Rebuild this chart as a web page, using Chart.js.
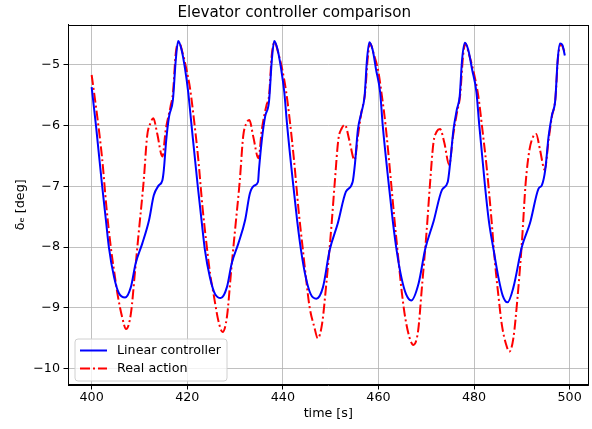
<!DOCTYPE html>
<html>
<head>
<meta charset="utf-8">
<script src="https://cdn.jsdelivr.net/npm/chart.js@4"></script>
<style>
  html, body { margin: 0; padding: 0; background: #fff; }
  canvas { display: block; }
</style>
</head>
<body>
<canvas id="elevatorChart" width="592" height="429"></canvas>
<script>
// elevator deflection from the linear controller: time [s] / delta_e [deg]
var linearTime = [
  400.0, 400.9, 402.2, 403.0, 403.6, 404.7, 405.7, 407.0, 408.2, 409.2, 410.6, 412.0, 413.0, 414.0, 414.8, 415.1, 415.6, 416.2, 417.0, 417.6, 418.1, 418.8, 419.5,
  420.2, 420.9, 422.2, 423.0, 423.7, 424.75, 425.8, 427.0, 428.3, 429.3, 430.7, 432.1, 433.1, 434.0, 434.8, 435.0, 435.6, 436.3, 437.1, 437.7, 438.2, 438.9, 439.6,
  440.3, 440.9, 442.2, 443.0, 443.8, 444.8, 445.8, 447.0, 448.4, 449.8, 451.5, 453.2, 454.6, 455.1, 455.7, 456.4, 457.1, 457.6, 458.1, 458.8, 459.5,
  460.35, 460.9, 462.2, 463.0, 463.8, 464.8, 465.8, 466.85, 468.4, 469.8, 471.5, 473.3, 474.5, 475.0, 475.7, 476.4, 477.0, 477.5, 478.1, 478.8, 479.6,
  480.5, 481.1, 482.3, 483.1, 484.1, 485.1, 486.0, 487.0, 488.25, 490.0, 491.7, 493.5, 494.2, 494.9, 495.6, 496.3, 497.0, 497.5, 498.0, 498.5, 499.0
];
var linearDeflection = [
  -5.37, -6.00, -7.00, -7.57, -8.00, -8.50, -8.76, -8.83, -8.66, -8.27, -7.94, -7.56, -7.15, -6.99, -6.90, -6.73, -6.24, -5.85, -5.58, -4.92, -4.61, -4.75, -5.05,
  -5.45, -6.00, -7.00, -7.57, -8.05, -8.50, -8.77, -8.84, -8.66, -8.27, -7.94, -7.56, -7.12, -6.99, -6.93, -6.73, -6.24, -5.85, -5.61, -4.92, -4.61, -4.75, -5.05,
  -5.45, -6.00, -7.00, -7.57, -8.05, -8.50, -8.77, -8.85, -8.66, -8.05, -7.61, -7.09, -6.93, -6.62, -6.07, -5.80, -5.52, -4.92, -4.63, -4.76, -5.08,
  -5.45, -6.00, -7.00, -7.57, -8.05, -8.50, -8.78, -8.88, -8.60, -8.03, -7.59, -7.06, -6.93, -6.62, -6.07, -5.74, -5.52, -4.92, -4.64, -4.76, -5.08,
  -5.45, -6.00, -7.00, -7.57, -8.05, -8.50, -8.80, -8.91, -8.66, -8.00, -7.61, -7.04, -6.98, -6.73, -6.18, -5.83, -5.58, -4.92, -4.65, -4.68, -4.85
];

// elevator deflection actually applied
var realTime = [
  400.0, 401.0, 402.2, 403.1, 404.0, 404.8, 405.4, 406.4, 407.2, 408.2, 409.1, 409.9, 410.9, 411.6, 412.3, 412.9, 413.7, 414.8, 415.5, 416.5, 417.0, 417.6, 418.3, 419.0, 419.7,
  420.6, 421.4, 422.3, 423.2, 424.1, 424.8, 425.5, 426.5, 427.4, 428.3, 429.2, 430.0, 431.0, 431.7, 432.4, 433.0, 433.8, 434.9, 435.6, 436.6, 437.1, 437.7, 438.3, 439.0, 439.8,
  440.7, 441.5, 442.4, 443.3, 444.2, 444.9, 445.6, 446.6, 447.3, 448.2, 449.1, 450.1, 450.9, 451.6, 452.3, 453.0, 453.9, 455.0, 455.7, 456.4, 457.2, 457.8, 458.3, 459.0, 459.9,
  460.7, 461.5, 462.4, 463.3, 464.2, 464.9, 465.6, 466.5, 467.3, 468.3, 469.1, 470.1, 470.8, 471.5, 472.2, 472.9, 473.8, 474.8, 475.6, 476.4, 477.1, 477.7, 478.2, 478.9, 479.8,
  480.9, 481.8, 482.7, 483.6, 484.4, 485.1, 485.8, 486.7, 487.4, 488.25, 489.1, 490.0, 490.8, 491.6, 492.4, 493.0, 493.8, 494.8, 495.6, 496.3, 497.0, 497.6, 498.2, 499.0
];
var realDeflection = [
  -5.17, -5.75, -6.55, -7.35, -8.00, -8.45, -8.77, -9.16, -9.35, -9.10, -8.38, -7.72, -6.90, -6.18, -5.96, -5.88, -6.13, -6.51, -6.07, -5.69, -5.47, -4.81, -4.63, -4.80, -5.03,
  -5.40, -5.90, -6.55, -7.35, -8.00, -8.45, -8.77, -9.21, -9.40, -9.15, -8.38, -7.72, -6.90, -6.18, -5.96, -5.91, -6.18, -6.54, -6.07, -5.66, -5.52, -4.83, -4.63, -4.80, -5.05,
  -5.45, -5.95, -6.62, -7.40, -8.05, -8.55, -8.99, -9.32, -9.50, -9.27, -8.60, -7.72, -6.90, -6.24, -6.05, -5.99, -6.24, -6.57, -6.18, -5.80, -5.47, -4.86, -4.65, -4.82, -5.08,
  -5.50, -6.00, -6.73, -7.50, -8.22, -8.75, -9.16, -9.49, -9.61, -9.38, -8.66, -7.72, -6.95, -6.29, -6.10, -6.06, -6.29, -6.65, -6.18, -5.80, -5.50, -4.86, -4.65, -4.82, -5.08,
  -5.52, -6.10, -6.73, -7.50, -8.27, -8.80, -9.27, -9.60, -9.72, -9.49, -8.83, -7.94, -6.95, -6.40, -6.18, -6.14, -6.40, -6.73, -6.24, -5.85, -5.58, -4.86, -4.67, -4.80
];

var xTicks = [400, 420, 440, 460, 480, 500];
var yTicks = [-10, -9, -8, -7, -6, -5];

function toPoints(xs, ys) {
  return xs.map(function (x, i) { return { x: x, y: ys[i] }; });
}

function fmt(v) {
  return v < 0 ? '\u2212' + Math.abs(v) : String(v);
}

Chart.defaults.font.family = "'DejaVu Sans', sans-serif";
Chart.defaults.color = '#000';

// black box round the plot area, like the axes spines
var frame = {
  id: 'frame',
  afterDatasetsDraw: function (chart) {
    var a = chart.chartArea, ctx = chart.ctx;
    ctx.save();
    ctx.strokeStyle = '#000';
    ctx.lineWidth = 1;
    ctx.strokeRect(Math.round(a.left) + 0.5, Math.round(a.top) + 0.5,
      Math.round(a.right - a.left) - 1, Math.round(a.bottom - a.top) - 1);
    ctx.restore();
  }
};

// legend sitting in the lower-left corner of the plot
var cornerLegend = {
  id: 'cornerLegend',
  afterDraw: function (chart) {
    var a = chart.chartArea, ctx = chart.ctx;
    var x = a.left + 7, y = a.bottom - 46, w = 152, h = 42, r = 3;
    ctx.save();
    ctx.beginPath();
    ctx.moveTo(x + r, y);
    ctx.arcTo(x + w, y, x + w, y + h, r);
    ctx.arcTo(x + w, y + h, x, y + h, r);
    ctx.arcTo(x, y + h, x, y, r);
    ctx.arcTo(x, y, x + w, y, r);
    ctx.closePath();
    ctx.fillStyle = 'rgba(255,255,255,0.8)';
    ctx.fill();
    ctx.strokeStyle = '#d0d0d0';
    ctx.lineWidth = 1;
    ctx.stroke();

    ctx.font = "12.7px 'DejaVu Sans'";
    ctx.textBaseline = 'middle';
    chart.data.datasets.forEach(function (ds, i) {
      var ly = y + 11.5 + i * 18;
      ctx.beginPath();
      ctx.setLineDash(ds.borderDash || []);
      ctx.strokeStyle = ds.borderColor;
      ctx.lineWidth = ds.borderWidth;
      ctx.moveTo(x + 5, ly);
      ctx.lineTo(x + 32, ly);
      ctx.stroke();
      ctx.setLineDash([]);
      ctx.fillStyle = '#000';
      ctx.fillText(ds.label, x + 42, ly + 0.5);
    });
    ctx.restore();
  }
};

var ctx = document.getElementById('elevatorChart').getContext('2d');

var elevatorChart = new Chart(ctx, {
  type: 'line',
  data: {
    datasets: [{
      label: 'Linear controller',
      data: toPoints(linearTime, linearDeflection),
      borderColor: '#0000ff',
      borderWidth: 2,
      pointRadius: 0,
      cubicInterpolationMode: 'monotone'
    }, {
      label: 'Real action',
      data: toPoints(realTime, realDeflection),
      borderColor: '#ff0000',
      borderWidth: 2,
      borderDash: [10, 3, 2, 3],
      pointRadius: 0,
      cubicInterpolationMode: 'monotone'
    }]
  },
  options: {
    responsive: false,
    animation: false,
    devicePixelRatio: 1,
    layout: { padding: { top: 0, right: 3.5, bottom: 0, left: 0 } },
    plugins: {
      legend: { display: false },
      tooltip: { enabled: false },
      title: {
        display: true,
        text: 'Elevator controller comparison',
        color: '#000',
        font: { size: 15.2, weight: 'normal' },
        padding: { top: 3.9, bottom: 2.4 }
      }
    },
    scales: {
      x: {
        type: 'linear',
        min: 395.05,
        max: 503.95,
        afterBuildTicks: function (s) { s.ticks = xTicks.map(function (v) { return { value: v }; }); },
        afterFit: function (s) { s.height = 44; },
        ticks: {
          color: '#000',
          font: { size: 12.7 },
          padding: 1,
          maxRotation: 0,
          autoSkip: false,
          callback: function (v) { return fmt(v); }
        },
        grid: { color: '#b0b0b0', lineWidth: 0.8, tickLength: 4.5, tickColor: '#000', tickWidth: 1 },
        border: { color: '#000', width: 1 },
        title: {
          display: true,
          text: 'time [s]',
          color: '#000',
          font: { size: 12.7 },
          padding: { top: 0, bottom: 7.4 }
        }
      },
      y: {
        type: 'linear',
        min: -10.27,
        max: -4.34,
        afterBuildTicks: function (s) { s.ticks = yTicks.map(function (v) { return { value: v }; }); },
        afterFit: function (s) { s.width = 68; },
        ticks: {
          color: '#000',
          font: { size: 12.7 },
          padding: 3.5,
          autoSkip: false,
          callback: function (v) { return fmt(v); }
        },
        grid: { color: '#b0b0b0', lineWidth: 0.8, tickLength: 4.5, tickColor: '#000', tickWidth: 1 },
        border: { color: '#000', width: 1 },
        title: {
          display: true,
          text: '\u03b4\u2091 [deg]',
          color: '#000',
          font: { size: 12.7 },
          padding: { top: 13, bottom: 0 }
        }
      }
    }
  },
  plugins: [frame, cornerLegend]
});
</script>
</body>
</html>
